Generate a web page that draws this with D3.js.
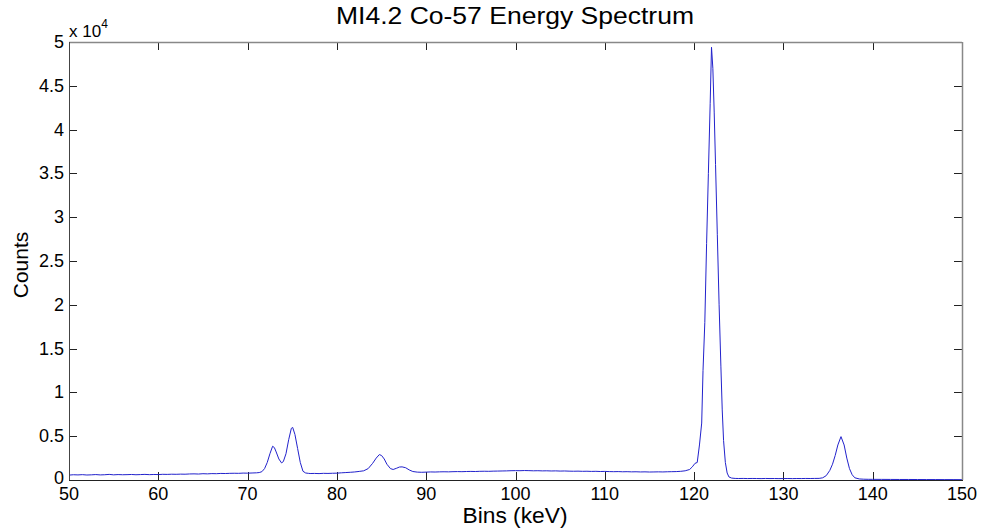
<!DOCTYPE html>
<html>
<head>
<meta charset="utf-8">
<script src="https://cdn.jsdelivr.net/npm/d3@7"></script>
<style>
  html, body { margin: 0; padding: 0; background: #fff; }
  svg { display: block; font-family: "Liberation Sans", Arial, sans-serif; }
</style>
</head>
<body>
<svg id="chart" width="981" height="531"></svg>
<script>
// ---- data ----
const title = "MI4.2 Co-57 Energy Spectrum";
const xLabel = "Bins (keV)";
const yLabel = "Counts";
const xTicks = [50, 60, 70, 80, 90, 100, 110, 120, 130, 140, 150];
const yTicks = [0, 5000, 10000, 15000, 20000, 25000, 30000, 35000, 40000, 45000, 50000];

const energy = [
  50, 50.5, 51, 51.5, 52, 52.5, 53, 53.5, 54, 54.5, 55, 55.5, 56, 56.5, 57, 57.5, 58, 58.5, 59, 59.5,
  60, 60.5, 61, 61.5, 62, 62.5, 63, 63.5, 64, 64.5, 65, 65.5, 66, 66.5, 67, 67.5, 68, 68.5, 69, 69.5,
  70, 70.5, 71, 71.3, 71.6, 71.9, 72.2, 72.5, 72.8, 73.0, 73.2, 73.5, 73.8, 74.0, 74.3, 74.6, 74.9, 75.05,
  75.3, 75.6, 75.9, 76.2, 76.5, 76.8, 77, 77.5, 78, 78.5, 79, 79.5, 80, 80.5, 81, 81.5, 82, 82.5, 83,
  83.5, 84, 84.4, 84.75, 85.0, 85.3, 85.6, 86.0, 86.3, 86.7, 87.0, 87.3, 87.7, 88.1, 88.5, 89, 89.5,
  90, 90.5, 91, 91.5, 92, 92.5, 93, 93.5, 94, 94.5, 95, 95.5, 96, 96.5, 97, 97.5, 98, 98.5, 99, 99.5,
  100, 100.5, 101, 101.5, 102, 102.5, 103, 103.5, 104, 104.5, 105, 105.5, 106, 106.5, 107, 107.5, 108, 108.5, 109, 109.5,
  110, 110.5, 111, 111.5, 112, 112.5, 113, 113.5, 114, 114.5, 115, 115.5, 116, 116.5, 117, 117.5, 118, 118.5, 119,
  119.5, 119.8, 120.1, 120.35, 120.6, 120.85, 121.0, 121.2, 121.4, 121.6, 121.8, 121.95, 122.1, 122.25, 122.4,
  122.6, 122.8, 123.0, 123.15, 123.3, 123.5, 123.7, 123.9, 124.2, 124.6,
  125, 125.5, 126, 126.5, 127, 127.5, 128, 128.5, 129, 129.5, 130, 130.5, 131, 131.5, 132, 132.5, 133, 133.5, 134,
  134.4, 134.8, 135.2, 135.5, 135.8, 136.1, 136.45, 136.8, 137.1, 137.4, 137.7, 138, 138.5, 139, 139.5,
  140, 141, 142, 143, 144, 145, 146, 147, 148, 149, 150
];
const counts = [
  560, 600, 580, 610, 570, 590, 620, 580, 600, 640, 590, 620, 600, 610, 630, 600, 620, 640, 610, 630,
  620, 650, 640, 660, 650, 670, 660, 690, 700, 680, 720, 700, 730, 720, 750, 740, 760, 770, 760, 790,
  780, 800, 820, 850, 950, 1300, 2000, 3000, 3850, 3700, 3200, 2400, 1950, 2100, 3000, 4600, 5900, 6000,
  5200, 3600, 2000, 1000, 800, 760, 740, 750, 730, 760, 750, 770, 780, 820, 850, 880, 920, 980, 1050,
  1300, 1900, 2500, 2900, 2800, 2400, 1800, 1300, 1200, 1350, 1480, 1500, 1400, 1150, 970, 900, 880,
  900, 920, 910, 930, 940, 930, 950, 960, 950, 970, 980, 970, 990, 1000, 990, 1010, 1020, 1030, 1040, 1060,
  1070, 1060, 1080, 1070, 1050, 1060, 1040, 1050, 1030, 1040, 1020, 1030, 1010, 1000, 1010, 990, 1000, 980, 990, 970,
  980, 960, 950, 960, 940, 950, 930, 940, 920, 930, 910, 920, 930, 920, 940, 950, 960, 990, 1050,
  1200, 1500, 1900, 2000, 4000, 6500, 12500, 18000, 27000, 35000, 43000, 49400, 47000, 42000, 36000,
  28000, 20000, 13000, 8000, 4500, 2000, 800, 350, 220, 180,
  170, 180, 165, 175, 170, 160, 175, 165, 170, 160, 165, 170, 160, 170, 165, 175, 170, 180, 185,
  250, 500, 1100, 1800, 2800, 4000, 4950, 4000, 2500, 1300, 600, 250, 120, 90, 80,
  75, 70, 65, 60, 60, 55, 50, 50, 45, 45, 40
];

// ---- layout ----
const svg = d3.select("#chart");
const L = 69, R = 962, T = 42, B = 480;

const x = d3.scaleLinear().domain([50, 150]).range([L, R]);
const y = d3.scaleLinear().domain([0, 50000]).range([B, T]);

const tickLen = 8;
const fmtY = d => String(d / 10000);

// ticks (inside, on all four sides)
const gTicks = svg.append("g").attr("stroke", "#222").attr("stroke-width", 1);
xTicks.forEach(v => {
  const px = Math.round(x(v)) + 0.5;
  gTicks.append("line").attr("x1", px).attr("x2", px).attr("y1", B).attr("y2", B - tickLen);
  gTicks.append("line").attr("x1", px).attr("x2", px).attr("y1", T).attr("y2", T + tickLen);
});
yTicks.forEach(v => {
  const py = Math.round(y(v)) + 0.5;
  gTicks.append("line").attr("x1", L).attr("x2", L + tickLen).attr("y1", py).attr("y2", py);
  gTicks.append("line").attr("x1", R).attr("x2", R - tickLen).attr("y1", py).attr("y2", py);
});

// data line
const line = d3.line().x((d, i) => x(energy[i])).y(d => y(d));
svg.append("path")
  .datum(counts)
  .attr("fill", "none")
  .attr("stroke", "#2222cc")
  .attr("stroke-width", 1)
  .attr("stroke-linejoin", "round")
  .attr("d", line);

// box
svg.append("line").attr("x1", L).attr("x2", R).attr("y1", T + 0.5).attr("y2", T + 0.5)
  .attr("stroke", "#888").attr("stroke-width", 1.5);
svg.append("line").attr("x1", R + 0.5).attr("x2", R + 0.5).attr("y1", T).attr("y2", B)
  .attr("stroke", "#888").attr("stroke-width", 1.5);
svg.append("line").attr("x1", L + 0.5).attr("x2", L + 0.5).attr("y1", T).attr("y2", B + 0.5)
  .attr("stroke", "#444").attr("stroke-width", 1);
svg.append("line").attr("x1", L).attr("x2", R + 1).attr("y1", B + 0.5).attr("y2", B + 0.5)
  .attr("stroke", "#222").attr("stroke-width", 1);

// tick labels
const gLab = svg.append("g").attr("font-size", 18).attr("fill", "#000");
xTicks.forEach(v => {
  gLab.append("text").attr("x", x(v)).attr("y", 500).attr("text-anchor", "middle").text(v);
});
yTicks.forEach(v => {
  gLab.append("text").attr("x", 64).attr("y", y(v) + (v === 0 ? 4 : 6)).attr("text-anchor", "end").text(fmtY(v));
});

// exponent
const ex = svg.append("text").attr("x", 69).attr("y", 37).attr("font-size", 17).attr("fill", "#000");
ex.append("tspan").text("x 10");
ex.append("tspan").attr("dy", -9).attr("font-size", 12).text("4");

// title and axis labels
svg.append("text").attr("x", 515).attr("y", 24).attr("text-anchor", "middle")
  .attr("font-size", 23).attr("textLength", 358).attr("lengthAdjust", "spacingAndGlyphs")
  .attr("fill", "#000").text(title);
svg.append("text").attr("x", 515).attr("y", 523).attr("text-anchor", "middle")
  .attr("font-size", 22).attr("textLength", 105).attr("lengthAdjust", "spacingAndGlyphs")
  .attr("fill", "#000").text(xLabel);
svg.append("text").attr("transform", "translate(28,265) rotate(-90)").attr("text-anchor", "middle")
  .attr("font-size", 21).attr("fill", "#000").text(yLabel);
</script>
</body>
</html>
